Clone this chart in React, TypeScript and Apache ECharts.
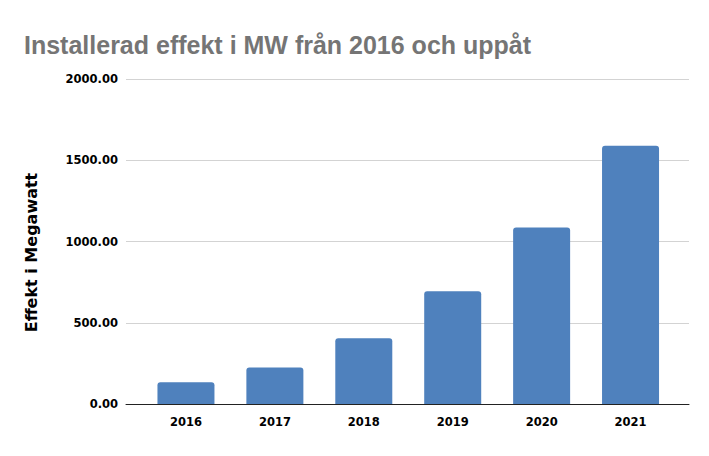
import React, { useEffect, useRef } from "react";
import * as echarts from "echarts";

const years = ["2016", "2017", "2018", "2019", "2020", "2021"];
const effektMW = [134, 224, 405, 694, 1086, 1589];
const yMin = 0;
const yMax = 2000;
const yStep = 500;

export default function App() {
  const ref = useRef<HTMLDivElement>(null);
  useEffect(() => {
    document.body.style.margin = "0";
    const chart = echarts.init(ref.current!, null, { renderer: "svg" });
    const labelFont = {
      fontFamily: "DejaVu Sans",
      fontWeight: "bold" as const,
      fontSize: 11.5,
      color: "#000000",
    };
    chart.setOption({
      animation: false,
      backgroundColor: "#ffffff",
      title: {
        text: "Installerad effekt i MW från 2016 och uppåt",
        left: 24,
        top: 32,
        padding: 0,
        textStyle: {
          fontFamily: "Liberation Sans",
          fontWeight: "bold",
          fontSize: 25,
          color: "#757575",
        },
      },
      grid: [
        { left: 126, right: 20, top: 79, bottom: 52 },
        { left: 141.5, right: 34, top: 79, bottom: 52 },
      ],
      xAxis: [
        {
          type: "value",
          gridIndex: 0,
          min: 0,
          max: 1,
          axisLine: { show: true, lineStyle: { color: "#222222", width: 1 } },
          axisTick: { show: false },
          axisLabel: { show: false },
          splitLine: { show: false },
        },
        {
          type: "category",
          gridIndex: 1,
          data: years,
          axisLine: { show: false },
          axisTick: { show: false },
          axisLabel: { ...labelFont, margin: 12 },
        },
      ],
      yAxis: [
        {
          type: "value",
          gridIndex: 0,
          min: yMin,
          max: yMax,
          interval: yStep,
          name: "Effekt i Megawatt",
          nameLocation: "middle",
          nameGap: 87,
          nameTextStyle: {
            fontFamily: "DejaVu Sans",
            fontWeight: "bold",
            fontSize: 16,
            color: "#000000",
            padding: [0, 22, 0, 0],
          },
          axisLine: { show: false },
          axisTick: { show: false },
          axisLabel: {
            ...labelFont,
            margin: 8,
            formatter: (v: number) => v.toFixed(2),
          },
          splitLine: { show: true, lineStyle: { color: "#d3d3d3", width: 1 } },
        },
        {
          type: "value",
          gridIndex: 1,
          min: yMin,
          max: yMax,
          interval: yStep,
          show: false,
          splitLine: { show: false },
        },
      ],
      series: [
        {
          type: "bar",
          xAxisIndex: 1,
          yAxisIndex: 1,
          data: effektMW,
          barWidth: 57,
          itemStyle: { color: "#4f81bd", borderRadius: [3, 3, 0, 0] },
        },
      ],
    });
    return () => chart.dispose();
  }, []);
  return <div ref={ref} style={{ width: 709, height: 456 }} />;
}
